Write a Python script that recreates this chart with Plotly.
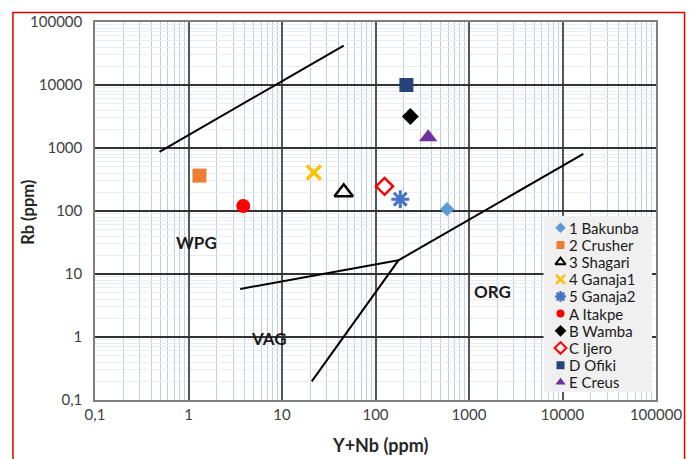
import math
import plotly.graph_objects as go

# ---- data ----
names = ["1 Bakunba", "2 Crusher", "3 Shagari", "4 Ganaja1", "5 Ganaja2",
         "A Itakpe", "B Wamba", "C Ijero", "D Ofiki", "E Creus"]
yn_vals = [583, 1.31, 45.7, 21.9, 184, 3.85, 236, 125, 214, 366]
rb_vals = [107, 365, 198, 407, 154, 120, 3160, 246, 10000, 1480]

# boundary lines (Y+Nb, Rb)
line1_x = [0.49, 45.7]
line1_y = [870, 42200]
line2_x = [3.57, 176]
line2_y = [5.8, 16.5]
line3_x = [20.8, 176, 16700]
line3_y = [0.198, 16.5, 806]

field_labels = ["WPG", "VAG", "ORG"]
field_x = [1.22, 7.3, 1800]
field_y = [31.6, 0.93, 5.24]

tick_vals = [0.1, 1, 10, 100, 1000, 10000, 100000]
tick_text = ["0,1", "1", "10", "100", "1000", "10000", "100000"]

x_title = "Y+Nb (ppm)"
y_title = "Rb (ppm)"

# ---- styles ----
colors = ["#5b9bd5", "#ed7d31", "black", "#ffc000", "#4472c4",
          "#ff0000", "black", "#ff0000", "#264478", "#7030a0"]
symbols = ["diamond", "square", "triangle-up-open", "x-thin-open", "asterisk-open",
           "circle", "diamond", "diamond-open", "square", "triangle-up"]
sizes = [11, 14, 16, 14, 15, 14, 13, 13, 14, 16]
line_w = [0, 0, 2.5, 3.5, 3, 0, 0, 2.5, 0, 0]
leg_sizes = [8, 8, 9, 9, 9, 8, 9, 9, 8, 9]
leg_line_w = [0, 0, 2, 2.5, 2.5, 0, 0, 2, 0, 0]

FONT = "Lato, sans-serif"

# figure geometry (pixels)
FW, FH = 694, 459
L, R, T, B = 95, 659, 16, 400
W, H = R - L, B - T
def px(v):
    return (v - L) / W
def py(v):
    return (B - v) / H

fig = go.Figure()

for lx, ly in [(line1_x, line1_y), (line2_x, line2_y), (line3_x, line3_y)]:
    fig.add_trace(go.Scatter(x=lx, y=ly, mode="lines", line=dict(color="black", width=2),
                             showlegend=False, hoverinfo="skip"))

for n, xv, yv, c, s, sz, lw in zip(names, yn_vals, rb_vals, colors, symbols, sizes, line_w):
    fig.add_trace(go.Scatter(x=[xv], y=[yv], mode="markers", name=n, showlegend=False,
                             marker=dict(symbol=s, color=c, size=sz, line=dict(width=lw, color=c))))

for t, xv, yv in zip(field_labels, field_x, field_y):
    fig.add_annotation(x=math.log10(xv), y=math.log10(yv), xref="x", yref="y",
                       text="<b>%s</b>" % t, showarrow=False,
                       font=dict(family=FONT, size=17, color="#1a1a1a"))

# axis titles
fig.add_annotation(x=px(382.5), y=py(446), xref="paper", yref="paper",
                   text="<b>%s</b>" % x_title, showarrow=False,
                   xanchor="center", yanchor="middle",
                   font=dict(family=FONT, size=18, color="#262626"))
fig.add_annotation(x=px(28), y=py(209.5), xref="paper", yref="paper",
                   text="<b>%s</b>" % y_title, showarrow=False, textangle=-90,
                   xanchor="center", yanchor="middle",
                   font=dict(family=FONT, size=16.5, color="#262626"))

# ---- legend box (drawn on its own small axes, pixel units) ----
LG_L, LG_R, LG_T, LG_B = 546, 655, 213, 392
fig.add_trace(go.Scatter(x=[LG_L, LG_R, LG_R, LG_L, LG_L], y=[LG_T, LG_T, LG_B, LG_B, LG_T],
                         mode="lines", fill="toself", fillcolor="#f0f0f0",
                         line=dict(width=0, color="#f0f0f0"), xaxis="x2", yaxis="y2",
                         showlegend=False, hoverinfo="skip"))
item_y0, item_dy = 225, 17.45
leg_y = [item_y0 + item_dy * i for i in range(len(names))]
for i, (n, c, s, sz, lw) in enumerate(zip(names, colors, symbols, leg_sizes, leg_line_w)):
    fig.add_trace(go.Scatter(x=[563], y=[leg_y[i]], mode="markers", xaxis="x2", yaxis="y2",
                             showlegend=False, hoverinfo="skip",
                             marker=dict(symbol=s, color=c, size=sz, line=dict(width=lw, color=c))))
    fig.add_annotation(x=570, y=leg_y[i], xref="x2", yref="y2", text=n, showarrow=False,
                       xanchor="left", yanchor="middle",
                       font=dict(family=FONT, size=15, color="#1a1a1a"))

# red frame around figure
fig.add_shape(type="rect", xref="paper", yref="paper",
              x0=px(12.5), x1=px(687.7), y0=py(475), y1=py(6.3),
              line=dict(color="#e00000", width=1.5), fillcolor="rgba(0,0,0,0)", layer="below")

axis_common = dict(
    type="log", range=[-1, 5], tickvals=tick_vals, ticktext=tick_text,
    showline=True, linecolor="#7f7f7f", linewidth=1.5, mirror=True,
    ticks="", showgrid=True, gridwidth=1.5, zeroline=False,
    tickfont=dict(family=FONT, size=15, color="#404040"),
)

fig.update_layout(
    width=FW, height=FH,
    margin=dict(l=L, r=FW - R, t=T, b=FH - B),
    paper_bgcolor="white", plot_bgcolor="white",
    font=dict(family=FONT),
    xaxis=dict(**axis_common, gridcolor="#555555",
               minor=dict(showgrid=True, gridcolor="#bcd0e2", gridwidth=1, dtick="D1", ticks="")),
    yaxis=dict(**axis_common, gridcolor="#333333", ticklabelstandoff=8,
               minor=dict(showgrid=True, gridcolor="#e8edf4", gridwidth=1, dtick="D1", ticks="")),
    xaxis2=dict(domain=[px(LG_L), px(LG_R)], range=[LG_L, LG_R], anchor="y2",
                visible=False, fixedrange=True),
    yaxis2=dict(domain=[py(LG_B), py(LG_T)], range=[LG_B, LG_T], anchor="x2",
                visible=False, fixedrange=True),
    showlegend=False,
)

fig.write_html("out.html", post_script="document.body.style.margin='0px';",
               config={"displayModeBar": False})
